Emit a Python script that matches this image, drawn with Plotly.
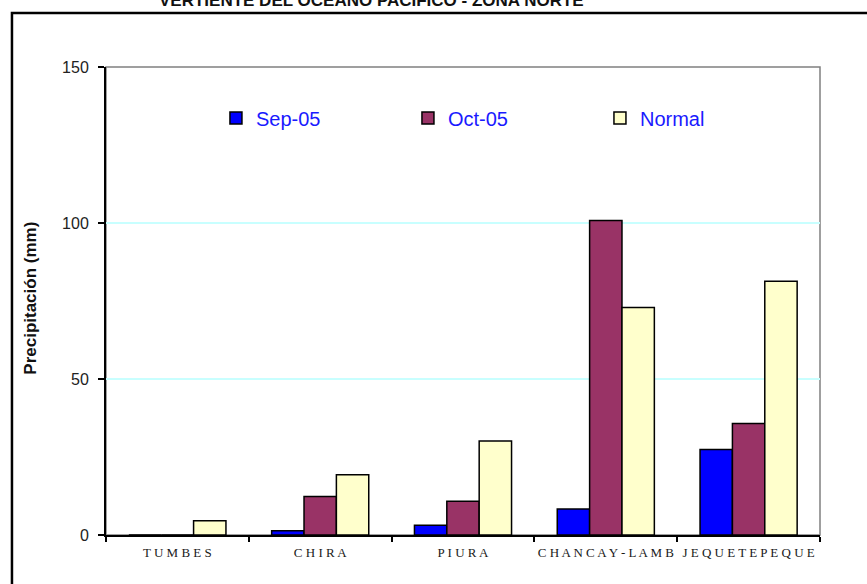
import plotly.graph_objects as go

cuencas = ['TUMBES', 'CHIRA', 'PIURA', 'CHANCAY-LAMB', 'JEQUETEPEQUE']
sep_05 = [0.0, 1.4, 3.1, 8.3, 27.4]
oct_05 = [0.0, 12.3, 10.8, 100.8, 35.7]
normal = [4.6, 19.3, 30.1, 72.9, 81.3]

# spaced-out labels to mimic the letter spacing of the original
tick_text = [' '.join(c) for c in cuencas]

series = [
    ('Sep-05', sep_05, '#0000FF'),
    ('Oct-05', oct_05, '#993366'),
    ('Normal', normal, '#FFFFCC'),
]

fig = go.Figure()
for name, values, color in series:
    fig.add_trace(
        go.Bar(
            x=cuencas,
            y=values,
            name=name,
            marker=dict(color=color, line=dict(color='black', width=1.5)),
        )
    )

fig.update_layout(
    width=867,
    height=584,
    margin=dict(l=106, r=47, t=67, b=49),
    paper_bgcolor='white',
    plot_bgcolor='white',
    barmode='group',
    bargap=0.32,
    bargroupgap=0,
    font=dict(family='Liberation Sans, Arial, sans-serif', color='#222222'),
    showlegend=True,
    legend=dict(
        orientation='h',
        x=0.154,
        y=0.891,
        xanchor='left',
        yanchor='middle',
        entrywidth=147,
        entrywidthmode='pixels',
        bgcolor='rgba(0,0,0,0)',
        font=dict(size=20, color='#1a1aff', family='Liberation Sans, Arial, sans-serif'),
    ),
    xaxis=dict(
        tickvals=cuencas,
        ticktext=tick_text,
        tickangle=0,
        automargin=False,
        tickson='boundaries',
        ticks='outside',
        ticklen=5,
        tickcolor='black',
        tickwidth=1.5,
        showline=True,
        linecolor='black',
        linewidth=2,
        showgrid=False,
        ticklabelstandoff=4,
        tickfont=dict(family='Liberation Serif, Times New Roman, serif', size=13, color='#1a1a1a'),
    ),
    yaxis=dict(
        range=[0, 150],
        tickvals=[0, 50, 100, 150],
        automargin=False,
        ticks='outside',
        ticklen=6,
        tickcolor='black',
        tickwidth=1.5,
        showline=True,
        linecolor='black',
        linewidth=2,
        showgrid=True,
        gridcolor='#c8ffff',
        gridwidth=1.5,
        zeroline=False,
        ticklabelstandoff=6,
        tickfont=dict(size=16, color='#222222'),
    ),
    shapes=[
        # grey border of the plot area (top and right)
        dict(type='rect', xref='paper', yref='paper', x0=0, x1=1, y0=0, y1=1,
             line=dict(color='#808080', width=1.5), layer='below'),
        # outer frame of the chart, running off the page
        dict(type='rect', xref='paper', yref='paper', x0=-0.1317, x1=1.08, y0=-0.13, y1=1.1154,
             line=dict(color='black', width=2.5), layer='below'),
    ],
    annotations=[
        dict(
            text='<b>Precipitación (mm)</b>',
            xref='paper', yref='paper',
            x=-0.105, y=0.505,
            xanchor='center', yanchor='middle',
            textangle=-90,
            showarrow=False,
            font=dict(size=17, color='#111111'),
        ),
        # chart title, only its lower part shows at the top of the page
        dict(
            text='<b>VERTIENTE DEL OCEANO PACIFICO - ZONA NORTE</b>',
            xref='paper', yref='paper',
            x=(371 - 106) / 714, y=(535 - 12) / 468,
            xanchor='center', yanchor='bottom',
            showarrow=False,
            font=dict(size=17, color='#111111'),
        ),
    ],
)

# drop the default 8px page margin so the figure sits at the window corner
fig.write_html(
    'out.html',
    config={'displayModeBar': False},
    post_script="document.body.style.margin='0';",
)
